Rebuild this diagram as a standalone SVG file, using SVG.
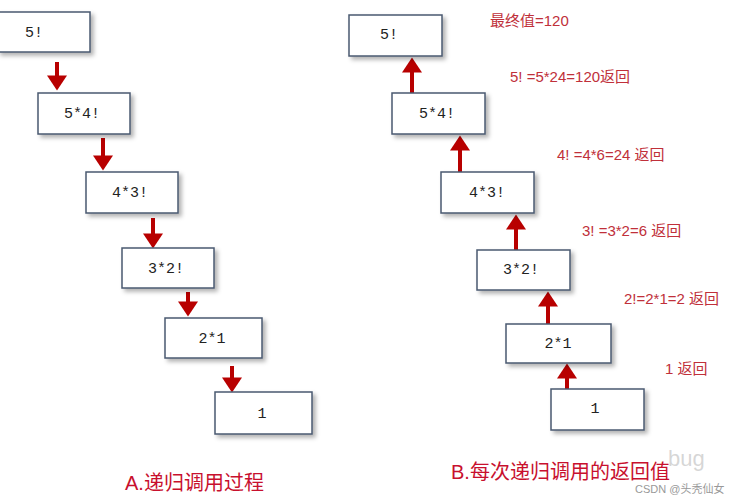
<svg xmlns="http://www.w3.org/2000/svg" width="738" height="500" viewBox="0 0 738 500">
<defs>
<marker id="ah" markerWidth="5" markerHeight="5" refX="0.5" refY="2" orient="auto" markerUnits="strokeWidth" viewBox="0 0 3 4"><path d="M0,0 L3,2 L0,4 z" fill="#b80000"/></marker>
<filter id="sh" x="-10%" y="-10%" width="130%" height="140%"><feDropShadow dx="3" dy="3" stdDeviation="2" flood-color="#000" flood-opacity="0.3"/></filter>
</defs>
<style>
.box{fill:#fff;stroke:#4a5a70;stroke-width:1.5;filter:url(#sh)}
.t{font-family:"Liberation Mono",monospace;font-size:15px;fill:#222;text-anchor:middle}
.a{stroke:#b80000;stroke-width:4;fill:none;marker-end:url(#ah)}
.r{font-family:"Liberation Sans","Noto Sans CJK SC",sans-serif;font-size:15px;fill:#c0303a}
.cap{font-family:"Liberation Sans","Noto Sans CJK SC",sans-serif;font-size:20px;fill:#c8102e}
</style>
<rect width="738" height="500" fill="#fff"/>
<g id="connectors">
<line class="a" x1="57" y1="62" x2="57" y2="78"/>
<line class="a" x1="103" y1="138" x2="103" y2="158"/>
<line class="a" x1="153" y1="218" x2="153" y2="236"/>
<line class="a" x1="188" y1="292" x2="188" y2="304"/>
<line class="a" x1="232" y1="366" x2="232" y2="380"/>
<line class="a" x1="412" y1="93" x2="412" y2="70"/>
<line class="a" x1="460" y1="172" x2="460" y2="148"/>
<line class="a" x1="516" y1="250" x2="516" y2="227"/>
<line class="a" x1="548" y1="324" x2="548" y2="304"/>
<line class="a" x1="567" y1="389" x2="567" y2="376"/>
</g>
<g id="L1"><rect class="box" x="-2" y="12" width="92" height="40"/><text class="t" x="34" y="37">5!</text></g>
<g id="L2"><rect class="box" x="38" y="93" width="92" height="41"/><text class="t" x="82" y="118">5*4!</text></g>
<g id="L3"><rect class="box" x="86" y="172" width="92" height="41"/><text class="t" x="130" y="197">4*3!</text></g>
<g id="L4"><rect class="box" x="122" y="248" width="92" height="40"/><text class="t" x="166" y="273">3*2!</text></g>
<g id="L5"><rect class="box" x="165" y="318" width="97" height="40"/><text class="t" x="212" y="343">2*1</text></g>
<g id="L6"><rect class="box" x="215" y="392" width="97" height="42"/><text class="t" x="262" y="418">1</text></g>
<g id="R1"><rect class="box" x="349" y="15" width="93" height="41"/><text class="t" x="389" y="39">5!</text></g>
<g id="R2"><rect class="box" x="392" y="93" width="93" height="41"/><text class="t" x="437" y="118">5*4!</text></g>
<g id="R3"><rect class="box" x="441" y="172" width="93" height="41"/><text class="t" x="487" y="197">4*3!</text></g>
<g id="R4"><rect class="box" x="477" y="250" width="93" height="40"/><text class="t" x="521" y="274">3*2!</text></g>
<g id="R5"><rect class="box" x="506" y="324" width="105" height="39"/><text class="t" x="558" y="348">2*1</text></g>
<g id="R6"><rect class="box" x="551" y="389" width="93" height="41"/><text class="t" x="595" y="413">1</text></g>
<text class="r" x="490" y="26">最终值=120</text>
<text class="r" x="510" y="82">5! =5*24=120返回</text>
<text class="r" x="557" y="160">4! =4*6=24 返回</text>
<text class="r" x="582" y="236">3! =3*2=6 返回</text>
<text class="r" x="624" y="304">2!=2*1=2 返回</text>
<text class="r" x="665" y="374">1 返回</text>
<text class="cap" x="125" y="490">A.递归调用过程</text>
<text class="cap" x="451" y="479">B.每次递归调用的返回值</text>
<text x="668" y="466" font-family="Liberation Sans,Noto Sans CJK SC,sans-serif" font-size="22" fill="#bbb" fill-opacity="0.6">bug</text>
<text x="635" y="493" font-family="Liberation Sans,Noto Sans CJK SC,sans-serif" font-size="11" fill="#999">CSDN @头秃仙女</text>
</svg>
